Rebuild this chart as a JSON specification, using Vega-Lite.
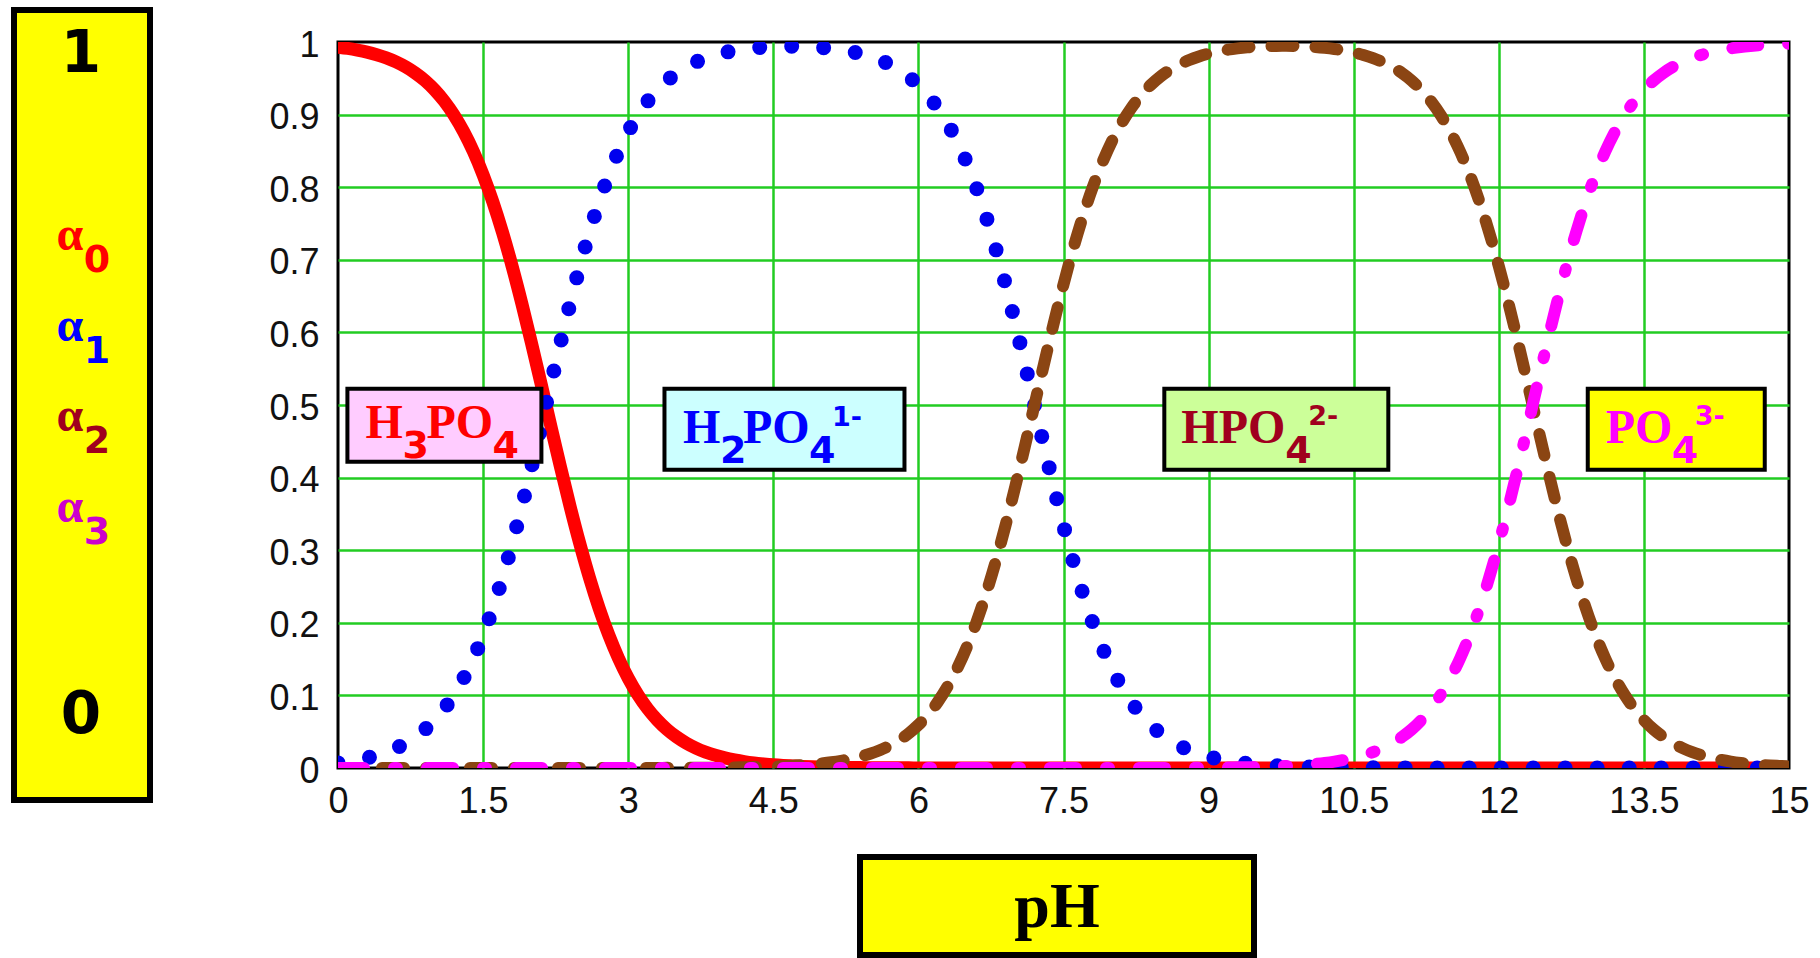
{
  "$schema": "https://vega.github.io/schema/vega-lite/v6.json",
  "background": "white",
  "padding": {"left": 11, "top": 7, "right": 0, "bottom": 0},
  "config": {"view": {"stroke": null}},
  "datasets": {
    "fractions": [
      {"pH": 0, "a0": 0.993, "a1": 0.007, "a2": 0, "a3": 0},
      {"pH": 0.1, "a0": 0.9912, "a1": 0.0088, "a2": 0, "a3": 0},
      {"pH": 0.2, "a0": 0.9889, "a1": 0.0111, "a2": 0, "a3": 0},
      {"pH": 0.3, "a0": 0.9861, "a1": 0.0139, "a2": 0, "a3": 0},
      {"pH": 0.4, "a0": 0.9825, "a1": 0.0175, "a2": 0, "a3": 0},
      {"pH": 0.5, "a0": 0.9781, "a1": 0.0219, "a2": 0, "a3": 0},
      {"pH": 0.6, "a0": 0.9726, "a1": 0.0274, "a2": 0, "a3": 0},
      {"pH": 0.7, "a0": 0.9657, "a1": 0.0343, "a2": 0, "a3": 0},
      {"pH": 0.8, "a0": 0.9572, "a1": 0.0428, "a2": 0, "a3": 0},
      {"pH": 0.9, "a0": 0.9468, "a1": 0.0532, "a2": 0, "a3": 0},
      {"pH": 1.0, "a0": 0.9339, "a1": 0.0661, "a2": 0, "a3": 0},
      {"pH": 1.1, "a0": 0.9182, "a1": 0.0818, "a2": 0, "a3": 0},
      {"pH": 1.2, "a0": 0.8991, "a1": 0.1009, "a2": 0, "a3": 0},
      {"pH": 1.3, "a0": 0.8762, "a1": 0.1238, "a2": 0, "a3": 0},
      {"pH": 1.4, "a0": 0.849, "a1": 0.151, "a2": 0, "a3": 0},
      {"pH": 1.5, "a0": 0.8171, "a1": 0.1829, "a2": 0, "a3": 0},
      {"pH": 1.6, "a0": 0.7801, "a1": 0.2199, "a2": 0, "a3": 0},
      {"pH": 1.7, "a0": 0.7381, "a1": 0.2619, "a2": 0, "a3": 0},
      {"pH": 1.8, "a0": 0.6912, "a1": 0.3088, "a2": 0, "a3": 0},
      {"pH": 1.9, "a0": 0.6401, "a1": 0.3599, "a2": 0, "a3": 0},
      {"pH": 2.0, "a0": 0.5855, "a1": 0.4145, "a2": 0, "a3": 0},
      {"pH": 2.1, "a0": 0.5288, "a1": 0.4712, "a2": 0, "a3": 0},
      {"pH": 2.2, "a0": 0.4712, "a1": 0.5288, "a2": 0, "a3": 0},
      {"pH": 2.3, "a0": 0.4145, "a1": 0.5855, "a2": 0, "a3": 0},
      {"pH": 2.4, "a0": 0.3599, "a1": 0.6401, "a2": 0, "a3": 0},
      {"pH": 2.5, "a0": 0.3088, "a1": 0.6912, "a2": 0, "a3": 0},
      {"pH": 2.6, "a0": 0.2619, "a1": 0.7381, "a2": 0, "a3": 0},
      {"pH": 2.7, "a0": 0.2199, "a1": 0.7801, "a2": 0, "a3": 0},
      {"pH": 2.8, "a0": 0.1829, "a1": 0.8171, "a2": 0, "a3": 0},
      {"pH": 2.9, "a0": 0.151, "a1": 0.849, "a2": 0, "a3": 0},
      {"pH": 3.0, "a0": 0.1238, "a1": 0.8761, "a2": 0.0001, "a3": 0},
      {"pH": 3.1, "a0": 0.1009, "a1": 0.899, "a2": 0.0001, "a3": 0},
      {"pH": 3.2, "a0": 0.0818, "a1": 0.9181, "a2": 0.0001, "a3": 0},
      {"pH": 3.3, "a0": 0.0661, "a1": 0.9338, "a2": 0.0001, "a3": 0},
      {"pH": 3.4, "a0": 0.0532, "a1": 0.9466, "a2": 0.0002, "a3": 0},
      {"pH": 3.5, "a0": 0.0428, "a1": 0.957, "a2": 0.0002, "a3": 0},
      {"pH": 3.6, "a0": 0.0343, "a1": 0.9655, "a2": 0.0002, "a3": 0},
      {"pH": 3.7, "a0": 0.0274, "a1": 0.9723, "a2": 0.0003, "a3": 0},
      {"pH": 3.8, "a0": 0.0219, "a1": 0.9777, "a2": 0.0004, "a3": 0},
      {"pH": 3.9, "a0": 0.0175, "a1": 0.982, "a2": 0.0005, "a3": 0},
      {"pH": 4.0, "a0": 0.0139, "a1": 0.9855, "a2": 0.0006, "a3": 0},
      {"pH": 4.1, "a0": 0.0111, "a1": 0.9881, "a2": 0.0008, "a3": 0},
      {"pH": 4.2, "a0": 0.0088, "a1": 0.9902, "a2": 0.001, "a3": 0},
      {"pH": 4.3, "a0": 0.007, "a1": 0.9917, "a2": 0.0013, "a3": 0},
      {"pH": 4.4, "a0": 0.0056, "a1": 0.9928, "a2": 0.0016, "a3": 0},
      {"pH": 4.5, "a0": 0.0044, "a1": 0.9936, "a2": 0.002, "a3": 0},
      {"pH": 4.6, "a0": 0.0035, "a1": 0.994, "a2": 0.0025, "a3": 0},
      {"pH": 4.7, "a0": 0.0028, "a1": 0.9941, "a2": 0.0031, "a3": 0},
      {"pH": 4.8, "a0": 0.0022, "a1": 0.9938, "a2": 0.004, "a3": 0},
      {"pH": 4.9, "a0": 0.0018, "a1": 0.9932, "a2": 0.005, "a3": 0},
      {"pH": 5.0, "a0": 0.0014, "a1": 0.9923, "a2": 0.0063, "a3": 0},
      {"pH": 5.1, "a0": 0.0011, "a1": 0.991, "a2": 0.0079, "a3": 0},
      {"pH": 5.2, "a0": 0.0009, "a1": 0.9892, "a2": 0.0099, "a3": 0},
      {"pH": 5.3, "a0": 0.0007, "a1": 0.9869, "a2": 0.0124, "a3": 0},
      {"pH": 5.4, "a0": 0.0006, "a1": 0.9838, "a2": 0.0156, "a3": 0},
      {"pH": 5.5, "a0": 0.0004, "a1": 0.98, "a2": 0.0196, "a3": 0},
      {"pH": 5.6, "a0": 0.0003, "a1": 0.9752, "a2": 0.0245, "a3": 0},
      {"pH": 5.7, "a0": 0.0003, "a1": 0.9691, "a2": 0.0306, "a3": 0},
      {"pH": 5.8, "a0": 0.0002, "a1": 0.9615, "a2": 0.0383, "a3": 0},
      {"pH": 5.9, "a0": 0.0002, "a1": 0.9521, "a2": 0.0477, "a3": 0},
      {"pH": 6.0, "a0": 0.0001, "a1": 0.9405, "a2": 0.0594, "a3": 0},
      {"pH": 6.1, "a0": 0.0001, "a1": 0.9263, "a2": 0.0736, "a3": 0},
      {"pH": 6.2, "a0": 0.0001, "a1": 0.909, "a2": 0.0909, "a3": 0},
      {"pH": 6.3, "a0": 0, "a1": 0.8881, "a2": 0.1119, "a3": 0},
      {"pH": 6.4, "a0": 0, "a1": 0.8632, "a2": 0.1368, "a3": 0},
      {"pH": 6.5, "a0": 0, "a1": 0.8336, "a2": 0.1664, "a3": 0},
      {"pH": 6.6, "a0": 0, "a1": 0.7992, "a2": 0.2008, "a3": 0},
      {"pH": 6.7, "a0": 0, "a1": 0.7597, "a2": 0.2403, "a3": 0},
      {"pH": 6.8, "a0": 0, "a1": 0.7152, "a2": 0.2848, "a3": 0},
      {"pH": 6.9, "a0": 0, "a1": 0.6661, "a2": 0.3339, "a3": 0},
      {"pH": 7.0, "a0": 0, "a1": 0.6131, "a2": 0.3869, "a3": 0},
      {"pH": 7.1, "a0": 0, "a1": 0.5573, "a2": 0.4427, "a3": 0},
      {"pH": 7.2, "a0": 0, "a1": 0.5, "a2": 0.5, "a3": 0},
      {"pH": 7.3, "a0": 0, "a1": 0.4427, "a2": 0.5573, "a3": 0},
      {"pH": 7.4, "a0": 0, "a1": 0.3869, "a2": 0.6131, "a3": 0},
      {"pH": 7.5, "a0": 0, "a1": 0.3339, "a2": 0.6661, "a3": 0},
      {"pH": 7.6, "a0": 0, "a1": 0.2848, "a2": 0.7152, "a3": 0},
      {"pH": 7.7, "a0": 0, "a1": 0.2403, "a2": 0.7597, "a3": 0},
      {"pH": 7.8, "a0": 0, "a1": 0.2008, "a2": 0.7992, "a3": 0},
      {"pH": 7.9, "a0": 0, "a1": 0.1664, "a2": 0.8336, "a3": 0},
      {"pH": 8.0, "a0": 0, "a1": 0.1368, "a2": 0.8632, "a3": 0},
      {"pH": 8.1, "a0": 0, "a1": 0.1118, "a2": 0.8881, "a3": 0.0001},
      {"pH": 8.2, "a0": 0, "a1": 0.0909, "a2": 0.909, "a3": 0.0001},
      {"pH": 8.3, "a0": 0, "a1": 0.0736, "a2": 0.9263, "a3": 0.0001},
      {"pH": 8.4, "a0": 0, "a1": 0.0593, "a2": 0.9406, "a3": 0.0001},
      {"pH": 8.5, "a0": 0, "a1": 0.0477, "a2": 0.9522, "a3": 0.0001},
      {"pH": 8.6, "a0": 0, "a1": 0.0383, "a2": 0.9615, "a3": 0.0002},
      {"pH": 8.7, "a0": 0, "a1": 0.0307, "a2": 0.9691, "a3": 0.0002},
      {"pH": 8.8, "a0": 0, "a1": 0.0245, "a2": 0.9752, "a3": 0.0003},
      {"pH": 8.9, "a0": 0, "a1": 0.0196, "a2": 0.9801, "a3": 0.0003},
      {"pH": 9.0, "a0": 0, "a1": 0.0156, "a2": 0.984, "a3": 0.0004},
      {"pH": 9.1, "a0": 0, "a1": 0.0124, "a2": 0.987, "a3": 0.0006},
      {"pH": 9.2, "a0": 0, "a1": 0.0099, "a2": 0.9894, "a3": 0.0007},
      {"pH": 9.3, "a0": 0, "a1": 0.0079, "a2": 0.9912, "a3": 0.0009},
      {"pH": 9.4, "a0": 0, "a1": 0.0063, "a2": 0.9926, "a3": 0.0011},
      {"pH": 9.5, "a0": 0, "a1": 0.005, "a2": 0.9936, "a3": 0.0014},
      {"pH": 9.6, "a0": 0, "a1": 0.004, "a2": 0.9942, "a3": 0.0018},
      {"pH": 9.7, "a0": 0, "a1": 0.0032, "a2": 0.9946, "a3": 0.0022},
      {"pH": 9.8, "a0": 0, "a1": 0.0025, "a2": 0.9947, "a3": 0.0028},
      {"pH": 9.9, "a0": 0, "a1": 0.002, "a2": 0.9945, "a3": 0.0035},
      {"pH": 10.0, "a0": 0, "a1": 0.0016, "a2": 0.994, "a3": 0.0044},
      {"pH": 10.1, "a0": 0, "a1": 0.0012, "a2": 0.9932, "a3": 0.0056},
      {"pH": 10.2, "a0": 0, "a1": 0.001, "a2": 0.992, "a3": 0.007},
      {"pH": 10.3, "a0": 0, "a1": 0.0008, "a2": 0.9904, "a3": 0.0088},
      {"pH": 10.4, "a0": 0, "a1": 0.0006, "a2": 0.9883, "a3": 0.0111},
      {"pH": 10.5, "a0": 0, "a1": 0.0005, "a2": 0.9856, "a3": 0.0139},
      {"pH": 10.6, "a0": 0, "a1": 0.0004, "a2": 0.9821, "a3": 0.0175},
      {"pH": 10.7, "a0": 0, "a1": 0.0003, "a2": 0.9778, "a3": 0.0219},
      {"pH": 10.8, "a0": 0, "a1": 0.0002, "a2": 0.9724, "a3": 0.0274},
      {"pH": 10.9, "a0": 0, "a1": 0.0002, "a2": 0.9655, "a3": 0.0343},
      {"pH": 11.0, "a0": 0, "a1": 0.0001, "a2": 0.9571, "a3": 0.0428},
      {"pH": 11.1, "a0": 0, "a1": 0.0001, "a2": 0.9467, "a3": 0.0532},
      {"pH": 11.2, "a0": 0, "a1": 0.0001, "a2": 0.9338, "a3": 0.0661},
      {"pH": 11.3, "a0": 0, "a1": 0.0001, "a2": 0.9181, "a3": 0.0818},
      {"pH": 11.4, "a0": 0, "a1": 0, "a2": 0.8991, "a3": 0.1009},
      {"pH": 11.5, "a0": 0, "a1": 0, "a2": 0.8762, "a3": 0.1238},
      {"pH": 11.6, "a0": 0, "a1": 0, "a2": 0.849, "a3": 0.151},
      {"pH": 11.7, "a0": 0, "a1": 0, "a2": 0.8171, "a3": 0.1829},
      {"pH": 11.8, "a0": 0, "a1": 0, "a2": 0.7801, "a3": 0.2199},
      {"pH": 11.9, "a0": 0, "a1": 0, "a2": 0.7381, "a3": 0.2619},
      {"pH": 12.0, "a0": 0, "a1": 0, "a2": 0.6912, "a3": 0.3088},
      {"pH": 12.1, "a0": 0, "a1": 0, "a2": 0.6401, "a3": 0.3599},
      {"pH": 12.2, "a0": 0, "a1": 0, "a2": 0.5855, "a3": 0.4145},
      {"pH": 12.3, "a0": 0, "a1": 0, "a2": 0.5288, "a3": 0.4712},
      {"pH": 12.4, "a0": 0, "a1": 0, "a2": 0.4712, "a3": 0.5288},
      {"pH": 12.5, "a0": 0, "a1": 0, "a2": 0.4145, "a3": 0.5855},
      {"pH": 12.6, "a0": 0, "a1": 0, "a2": 0.3599, "a3": 0.6401},
      {"pH": 12.7, "a0": 0, "a1": 0, "a2": 0.3088, "a3": 0.6912},
      {"pH": 12.8, "a0": 0, "a1": 0, "a2": 0.2619, "a3": 0.7381},
      {"pH": 12.9, "a0": 0, "a1": 0, "a2": 0.2199, "a3": 0.7801},
      {"pH": 13.0, "a0": 0, "a1": 0, "a2": 0.1829, "a3": 0.8171},
      {"pH": 13.1, "a0": 0, "a1": 0, "a2": 0.151, "a3": 0.849},
      {"pH": 13.2, "a0": 0, "a1": 0, "a2": 0.1238, "a3": 0.8762},
      {"pH": 13.3, "a0": 0, "a1": 0, "a2": 0.1009, "a3": 0.8991},
      {"pH": 13.4, "a0": 0, "a1": 0, "a2": 0.0818, "a3": 0.9182},
      {"pH": 13.5, "a0": 0, "a1": 0, "a2": 0.0661, "a3": 0.9339},
      {"pH": 13.6, "a0": 0, "a1": 0, "a2": 0.0532, "a3": 0.9468},
      {"pH": 13.7, "a0": 0, "a1": 0, "a2": 0.0428, "a3": 0.9572},
      {"pH": 13.8, "a0": 0, "a1": 0, "a2": 0.0343, "a3": 0.9657},
      {"pH": 13.9, "a0": 0, "a1": 0, "a2": 0.0274, "a3": 0.9726},
      {"pH": 14.0, "a0": 0, "a1": 0, "a2": 0.0219, "a3": 0.9781},
      {"pH": 14.1, "a0": 0, "a1": 0, "a2": 0.0175, "a3": 0.9825},
      {"pH": 14.2, "a0": 0, "a1": 0, "a2": 0.0139, "a3": 0.9861},
      {"pH": 14.3, "a0": 0, "a1": 0, "a2": 0.0111, "a3": 0.9889},
      {"pH": 14.4, "a0": 0, "a1": 0, "a2": 0.0088, "a3": 0.9912},
      {"pH": 14.5, "a0": 0, "a1": 0, "a2": 0.007, "a3": 0.993},
      {"pH": 14.6, "a0": 0, "a1": 0, "a2": 0.0056, "a3": 0.9944},
      {"pH": 14.7, "a0": 0, "a1": 0, "a2": 0.0044, "a3": 0.9956},
      {"pH": 14.8, "a0": 0, "a1": 0, "a2": 0.0035, "a3": 0.9965},
      {"pH": 14.9, "a0": 0, "a1": 0, "a2": 0.0028, "a3": 0.9972},
      {"pH": 15.0, "a0": 0, "a1": 0, "a2": 0.0022, "a3": 0.9978}
    ],
    "labels": [
      {"species": "H3PO4", "pH": 1.1, "alpha": 0.47},
      {"species": "H2PO4", "pH": 4.6, "alpha": 0.47},
      {"species": "HPO4", "pH": 9.7, "alpha": 0.47},
      {"species": "PO4", "pH": 13.85, "alpha": 0.47}
    ],
    "legendItems": [
      {"species": "a0", "symbol": "α", "sub": "0"},
      {"species": "a1", "symbol": "α", "sub": "1"},
      {"species": "a2", "symbol": "α", "sub": "2"},
      {"species": "a3", "symbol": "α", "sub": "3"}
    ],
    "legendEnds": [
      {"end": "1"},
      {"end": "0"}
    ],
    "axisTitle": [
      {"name": "pH"}
    ]
  },
  "columns": 2,
  "spacing": {"row": 57, "column": 188},
  "bounds": "flush",
  "center": {"row": true, "column": false},
  "concat": [
    {
      "width": 136,
      "height": 790,
      "view": {"fill": "#ffff00", "stroke": "#000000", "strokeWidth": 6},
      "layer": [
        {
          "data": {"name": "legendEnds"},
          "mark": {"type": "text", "font": "DejaVu Sans", "fontWeight": "bold", "fontSize": 58, "align": "center", "baseline": "alphabetic", "dx": -1, "fill": "#000000"},
          "encoding": {
            "y": {"field": "end", "type": "ordinal", "scale": {"type": "point", "domain": ["1", "0"], "padding": 0, "range": [62, 723]}, "axis": null},
            "text": {"field": "end"}
          }
        },
        {
          "data": {"name": "legendItems"},
          "mark": {"type": "text", "font": "Liberation Serif", "fontWeight": "bold", "fontSize": 48, "align": "center", "baseline": "alphabetic", "dx": -12},
          "encoding": {
            "y": {"field": "species", "type": "ordinal", "scale": {"type": "point", "domain": ["a0", "a1", "a2", "a3"], "padding": 0, "range": [240, 512]}, "axis": null},
            "text": {"field": "symbol"},
            "fill": {"field": "species", "type": "nominal", "scale": {"domain": ["a0", "a1", "a2", "a3"], "range": ["#ff0000", "#0000ff", "#a0001e", "#cc00cc"]}, "legend": null}
          }
        },
        {
          "data": {"name": "legendItems"},
          "mark": {"type": "text", "font": "DejaVu Sans", "fontWeight": "bold", "fontSize": 38, "align": "center", "baseline": "alphabetic", "dx": 15, "dy": 22},
          "encoding": {
            "y": {"field": "species", "type": "ordinal", "scale": {"type": "point", "domain": ["a0", "a1", "a2", "a3"], "padding": 0, "range": [240, 512]}, "axis": null},
            "text": {"field": "sub"},
            "fill": {"field": "species", "type": "nominal", "scale": {"domain": ["a0", "a1", "a2", "a3"], "range": ["#ff0000", "#0000ff", "#a0001e", "#cc00cc"]}, "legend": null}
          }
        }
      ],
      "resolve": {"scale": {"y": "independent"}}
    },
    {
      "width": 1451,
      "height": 726,
      "view": {"stroke": "#000000", "strokeWidth": 3},
      "encoding": {
        "x": {
          "field": "pH",
          "type": "quantitative",
          "scale": {"domain": [0, 15], "nice": false, "zero": false},
          "axis": {
            "title": null,
            "values": [0, 1.5, 3, 4.5, 6, 7.5, 9, 10.5, 12, 13.5, 15],
            "labelExpr": "'' + datum.value",
            "domain": false,
            "ticks": false,
            "tickSize": 0,
            "labelFont": "Liberation Sans",
            "labelFontSize": 36,
            "labelColor": "#111111",
            "labelPadding": 16,
            "labelFlush": false,
            "labelOverlap": false,
            "grid": true,
            "gridWidth": 2.5,
            "gridColor": {"condition": {"test": "datum.value === 0 || datum.value === 15", "value": "transparent"}, "value": "#22cc22"}
          }
        },
        "y": {
          "field": "alpha",
          "type": "quantitative",
          "scale": {"domain": [0, 1], "nice": false},
          "axis": {
            "title": null,
            "values": [0, 0.1, 0.2, 0.3, 0.4, 0.5, 0.6, 0.7, 0.8, 0.9, 1],
            "labelExpr": "'' + datum.value",
            "domain": false,
            "ticks": false,
            "tickSize": 0,
            "labelFont": "Liberation Sans",
            "labelFontSize": 36,
            "labelColor": "#111111",
            "labelPadding": 19,
            "labelOffset": 3,
            "labelFlush": false,
            "labelOverlap": false,
            "grid": true,
            "gridWidth": 2.5,
            "gridColor": {"condition": {"test": "datum.value === 0 || datum.value === 1", "value": "transparent"}, "value": "#22cc22"}
          }
        }
      },
      "layer": [
        {
          "data": {"name": "fractions"},
          "transform": [{"fold": ["a0"], "as": ["species", "alpha"]}],
          "mark": {"type": "line", "clip": true, "interpolate": "monotone", "stroke": "#ff0000", "strokeWidth": 13, "strokeCap": "round", "strokeJoin": "round"}
        },
        {
          "data": {"name": "fractions"},
          "transform": [{"fold": ["a1"], "as": ["species", "alpha"]}],
          "mark": {"type": "line", "clip": true, "interpolate": "monotone", "stroke": "#0000ee", "strokeWidth": 15, "strokeCap": "round", "strokeJoin": "round", "strokeDash": [0, 32]}
        },
        {
          "data": {"name": "fractions"},
          "transform": [{"fold": ["a2"], "as": ["species", "alpha"]}],
          "mark": {"type": "line", "clip": true, "interpolate": "monotone", "stroke": "#8b4513", "strokeWidth": 12, "strokeCap": "round", "strokeJoin": "round", "strokeDash": [22, 22]}
        },
        {
          "data": {"name": "fractions"},
          "transform": [{"fold": ["a3"], "as": ["species", "alpha"]}],
          "mark": {"type": "line", "clip": true, "interpolate": "monotone", "stroke": "#ff00ff", "strokeWidth": 12, "strokeCap": "round", "strokeJoin": "round", "strokeDash": [26, 30, 3, 30]}
        },
        {
          "data": {"name": "labels"},
          "transform": [{"filter": "datum.species === 'H3PO4'"}],
          "mark": {"type": "rect", "fill": "#ffccff", "stroke": "#000000", "strokeWidth": 4, "xOffset": -97, "x2Offset": 97, "yOffset": -38, "y2Offset": 35},
          "encoding": {"x2": {"field": "pH"}, "y2": {"field": "alpha"}}
        },
        {
          "data": {"name": "labels"},
          "transform": [{"filter": "datum.species === 'H3PO4'"}],
          "mark": {"type": "text", "text": "H", "font": "Liberation Serif", "fontWeight": "bold", "fontSize": 48, "align": "left", "baseline": "alphabetic", "dx": -79, "dy": 11, "fill": "#ff0000"}
        },
        {
          "data": {"name": "labels"},
          "transform": [{"filter": "datum.species === 'H3PO4'"}],
          "mark": {"type": "text", "text": "3", "font": "DejaVu Sans", "fontWeight": "bold", "fontSize": 38, "align": "left", "baseline": "alphabetic", "dx": -42, "dy": 31, "fill": "#ff0000"}
        },
        {
          "data": {"name": "labels"},
          "transform": [{"filter": "datum.species === 'H3PO4'"}],
          "mark": {"type": "text", "text": "PO", "font": "Liberation Serif", "fontWeight": "bold", "fontSize": 48, "align": "left", "baseline": "alphabetic", "dx": -18, "dy": 11, "fill": "#ff0000"}
        },
        {
          "data": {"name": "labels"},
          "transform": [{"filter": "datum.species === 'H3PO4'"}],
          "mark": {"type": "text", "text": "4", "font": "DejaVu Sans", "fontWeight": "bold", "fontSize": 38, "align": "left", "baseline": "alphabetic", "dx": 48, "dy": 31, "fill": "#ff0000"}
        },
        {
          "data": {"name": "labels"},
          "transform": [{"filter": "datum.species === 'H2PO4'"}],
          "mark": {"type": "rect", "fill": "#ccffff", "stroke": "#000000", "strokeWidth": 4, "xOffset": -118.5, "x2Offset": 121.5, "yOffset": -38, "y2Offset": 43},
          "encoding": {"x2": {"field": "pH"}, "y2": {"field": "alpha"}}
        },
        {
          "data": {"name": "labels"},
          "transform": [{"filter": "datum.species === 'H2PO4'"}],
          "mark": {"type": "text", "text": "H", "font": "Liberation Serif", "fontWeight": "bold", "fontSize": 48, "align": "left", "baseline": "alphabetic", "dx": -100, "dy": 16, "fill": "#0000ff"}
        },
        {
          "data": {"name": "labels"},
          "transform": [{"filter": "datum.species === 'H2PO4'"}],
          "mark": {"type": "text", "text": "2", "font": "DejaVu Sans", "fontWeight": "bold", "fontSize": 38, "align": "left", "baseline": "alphabetic", "dx": -63, "dy": 36, "fill": "#0000ff"}
        },
        {
          "data": {"name": "labels"},
          "transform": [{"filter": "datum.species === 'H2PO4'"}],
          "mark": {"type": "text", "text": "PO", "font": "Liberation Serif", "fontWeight": "bold", "fontSize": 48, "align": "left", "baseline": "alphabetic", "dx": -40, "dy": 16, "fill": "#0000ff"}
        },
        {
          "data": {"name": "labels"},
          "transform": [{"filter": "datum.species === 'H2PO4'"}],
          "mark": {"type": "text", "text": "4", "font": "DejaVu Sans", "fontWeight": "bold", "fontSize": 38, "align": "left", "baseline": "alphabetic", "dx": 26, "dy": 36, "fill": "#0000ff"}
        },
        {
          "data": {"name": "labels"},
          "transform": [{"filter": "datum.species === 'H2PO4'"}],
          "mark": {"type": "text", "text": "1-", "font": "DejaVu Sans", "fontWeight": "bold", "fontSize": 27, "align": "left", "baseline": "alphabetic", "dx": 49, "dy": -1, "fill": "#0000ff"}
        },
        {
          "data": {"name": "labels"},
          "transform": [{"filter": "datum.species === 'HPO4'"}],
          "mark": {"type": "rect", "fill": "#ccff99", "stroke": "#000000", "strokeWidth": 4, "xOffset": -112, "x2Offset": 112, "yOffset": -38, "y2Offset": 43},
          "encoding": {"x2": {"field": "pH"}, "y2": {"field": "alpha"}}
        },
        {
          "data": {"name": "labels"},
          "transform": [{"filter": "datum.species === 'HPO4'"}],
          "mark": {"type": "text", "text": "HPO", "font": "Liberation Serif", "fontWeight": "bold", "fontSize": 48, "align": "left", "baseline": "alphabetic", "dx": -95, "dy": 16, "fill": "#a0001e"}
        },
        {
          "data": {"name": "labels"},
          "transform": [{"filter": "datum.species === 'HPO4'"}],
          "mark": {"type": "text", "text": "4", "font": "DejaVu Sans", "fontWeight": "bold", "fontSize": 38, "align": "left", "baseline": "alphabetic", "dx": 9, "dy": 36, "fill": "#a0001e"}
        },
        {
          "data": {"name": "labels"},
          "transform": [{"filter": "datum.species === 'HPO4'"}],
          "mark": {"type": "text", "text": "2-", "font": "DejaVu Sans", "fontWeight": "bold", "fontSize": 27, "align": "left", "baseline": "alphabetic", "dx": 32, "dy": -2, "fill": "#a0001e"}
        },
        {
          "data": {"name": "labels"},
          "transform": [{"filter": "datum.species === 'PO4'"}],
          "mark": {"type": "rect", "fill": "#ffff00", "stroke": "#000000", "strokeWidth": 4, "xOffset": -90, "x2Offset": 87, "yOffset": -38, "y2Offset": 43},
          "encoding": {"x2": {"field": "pH"}, "y2": {"field": "alpha"}}
        },
        {
          "data": {"name": "labels"},
          "transform": [{"filter": "datum.species === 'PO4'"}],
          "mark": {"type": "text", "text": "PO", "font": "Liberation Serif", "fontWeight": "bold", "fontSize": 48, "align": "left", "baseline": "alphabetic", "dx": -72, "dy": 16, "fill": "#ff00ff"}
        },
        {
          "data": {"name": "labels"},
          "transform": [{"filter": "datum.species === 'PO4'"}],
          "mark": {"type": "text", "text": "4", "font": "DejaVu Sans", "fontWeight": "bold", "fontSize": 38, "align": "left", "baseline": "alphabetic", "dx": -6, "dy": 36, "fill": "#ff00ff"}
        },
        {
          "data": {"name": "labels"},
          "transform": [{"filter": "datum.species === 'PO4'"}],
          "mark": {"type": "text", "text": "3-", "font": "DejaVu Sans", "fontWeight": "bold", "fontSize": 27, "align": "left", "baseline": "alphabetic", "dx": 17, "dy": -2, "fill": "#ff00ff"}
        }
      ]
    },
    {
      "width": 136,
      "height": 98,
      "data": {"values": []},
      "mark": {"type": "text"}
    },
    {
      "bounds": "flush",
      "spacing": 0,
      "hconcat": [
        {
          "width": 522,
          "height": 98,
          "data": {"values": []},
          "mark": {"type": "text"}
        },
        {
          "width": 394,
          "height": 98,
          "view": {"fill": "#ffff00", "stroke": "#000000", "strokeWidth": 6},
          "data": {"name": "axisTitle"},
          "mark": {"type": "text", "font": "Liberation Serif", "fontWeight": "bold", "fontSize": 64, "align": "center", "baseline": "alphabetic", "dy": 21, "fill": "#000000"},
          "encoding": {"text": {"field": "name"}}
        }
      ]
    }
  ]
}
